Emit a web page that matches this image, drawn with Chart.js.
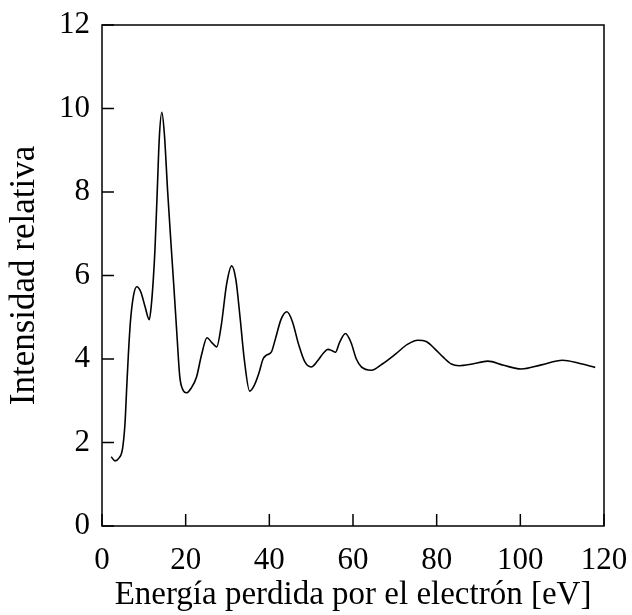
<!DOCTYPE html>
<html>
<head>
<meta charset="utf-8">
<script src="https://cdn.jsdelivr.net/npm/chart.js@4.4.1/dist/chart.umd.min.js"></script>
<style>
  html, body { margin: 0; padding: 0; background: #ffffff; }
  #wrap { width: 632px; height: 615px; position: relative; }
</style>
</head>
<body>
<div id="wrap"><canvas id="c" width="632" height="615"></canvas></div>
<script>
// Energy loss (eV)
const energy = [
  2.2, 3.1, 4.0, 4.9, 5.5, 5.9, 6.3, 6.8, 7.5, 8.3, 9.3, 10.3, 11.3, 11.8, 12.25, 12.65, 13.2, 13.7,
  14.3, 14.9, 15.7, 16.6, 17.2, 17.9, 18.6, 19.4, 20.2, 21.3, 22.6, 23.8, 25.1, 26.2, 27.4, 28.5,
  29.8, 31.0, 32.0, 33.0, 34.0, 35.3, 36.3, 37.5, 38.5, 39.3, 40.5, 41.5, 42.8, 44.2, 45.5, 47.0,
  48.5, 50.0, 51.5, 53.0, 54.0, 55.0, 55.8, 56.8, 58.2, 59.5, 60.8, 62.0, 64.4, 67.0, 70.3, 73.0,
  75.5, 77.5, 79.5, 81.5, 83.5, 85.4, 88.5, 92.2, 96.0, 100.2, 105.0, 110.1, 114.0, 117.9
];
// Relative intensity
const intensity = [
  1.66, 1.56, 1.62, 1.85, 2.46, 3.3, 4.1, 4.9, 5.5, 5.73, 5.6, 5.25, 4.94, 5.3, 5.89, 6.6, 8.0, 9.3,
  9.91, 9.4, 8.0, 6.6, 5.7, 4.6, 3.57, 3.25, 3.19, 3.3, 3.57, 4.1, 4.51, 4.4, 4.29, 4.8,
  5.8, 6.23, 5.9, 5.0, 4.0, 3.23, 3.35, 3.66, 4.0, 4.09, 4.17, 4.5, 4.95, 5.13, 4.9, 4.35,
  3.93, 3.81, 3.95, 4.15, 4.23, 4.2, 4.16, 4.4, 4.61, 4.4, 4.0, 3.81, 3.73, 3.88, 4.13, 4.35,
  4.45, 4.42, 4.25, 4.05, 3.88, 3.84, 3.88, 3.95, 3.85, 3.76, 3.86, 3.97, 3.9, 3.80
];
const xTicks = [0, 20, 40, 60, 80, 100, 120];
const yTicks = [0, 2, 4, 6, 8, 10, 12];
const xTitle = 'Energía perdida por el electrón [eV]';
const yTitle = 'Intensidad relativa';

const points = energy.map((x, i) => ({ x: x, y: intensity[i] }));
const FONT = '"Liberation Serif", "Times New Roman", serif';

const frameTicks = {
  id: 'frameTicks',
  afterDatasetsDraw(chart) {
    const { ctx, chartArea: a, scales } = chart;
    ctx.save();
    ctx.strokeStyle = '#000';
    ctx.lineWidth = 1.5;
    ctx.strokeRect(a.left, a.top, a.right - a.left, a.bottom - a.top);
    ctx.beginPath();
    xTicks.forEach(v => {
      const px = scales.x.getPixelForValue(v);
      ctx.moveTo(px, a.bottom);
      ctx.lineTo(px, a.bottom - 12);
    });
    yTicks.forEach(v => {
      const py = scales.y.getPixelForValue(v);
      ctx.moveTo(a.left, py);
      ctx.lineTo(a.left + 12, py);
    });
    ctx.stroke();
    ctx.restore();
  }
};

new Chart(document.getElementById('c'), {
  type: 'line',
  data: {
    datasets: [{
      data: points,
      borderColor: '#000',
      borderWidth: 1.6,
      pointRadius: 0,
      fill: false,
      cubicInterpolationMode: 'monotone'
    }]
  },
  options: {
    responsive: false,
    animation: false,
    devicePixelRatio: 1,
    layout: { padding: { top: 25, right: 28, left: 0, bottom: 0 } },
    plugins: { legend: { display: false }, tooltip: { enabled: false } },
    scales: {
      x: {
        type: 'linear',
        min: 0, max: 120,
        afterBuildTicks: s => { s.ticks = xTicks.map(v => ({ value: v })); },
        afterFit: s => { s.height = 89; s.paddingLeft = 0; s.paddingRight = 0; },
        grid: { display: false, drawTicks: false },
        border: { display: false },
        ticks: { color: '#000', font: { family: FONT, size: 31 }, padding: 16, maxRotation: 0 },
        title: { display: true, text: xTitle, color: '#000', font: { family: FONT, size: 33 }, padding: { top: 0, bottom: 0 } }
      },
      y: {
        type: 'linear',
        min: 0, max: 12,
        afterBuildTicks: s => { s.ticks = yTicks.map(v => ({ value: v })); },
        afterFit: s => { s.width = 102; s.paddingTop = 0; s.paddingBottom = 0; },
        grid: { display: false, drawTicks: false },
        border: { display: false },
        ticks: { color: '#000', font: { family: FONT, size: 31 }, padding: 12 },
        title: { display: true, text: yTitle, color: '#000', font: { family: FONT, size: 35 }, padding: { top: 4, bottom: 0 } }
      }
    }
  },
  plugins: [frameTicks]
});
</script>
</body>
</html>
